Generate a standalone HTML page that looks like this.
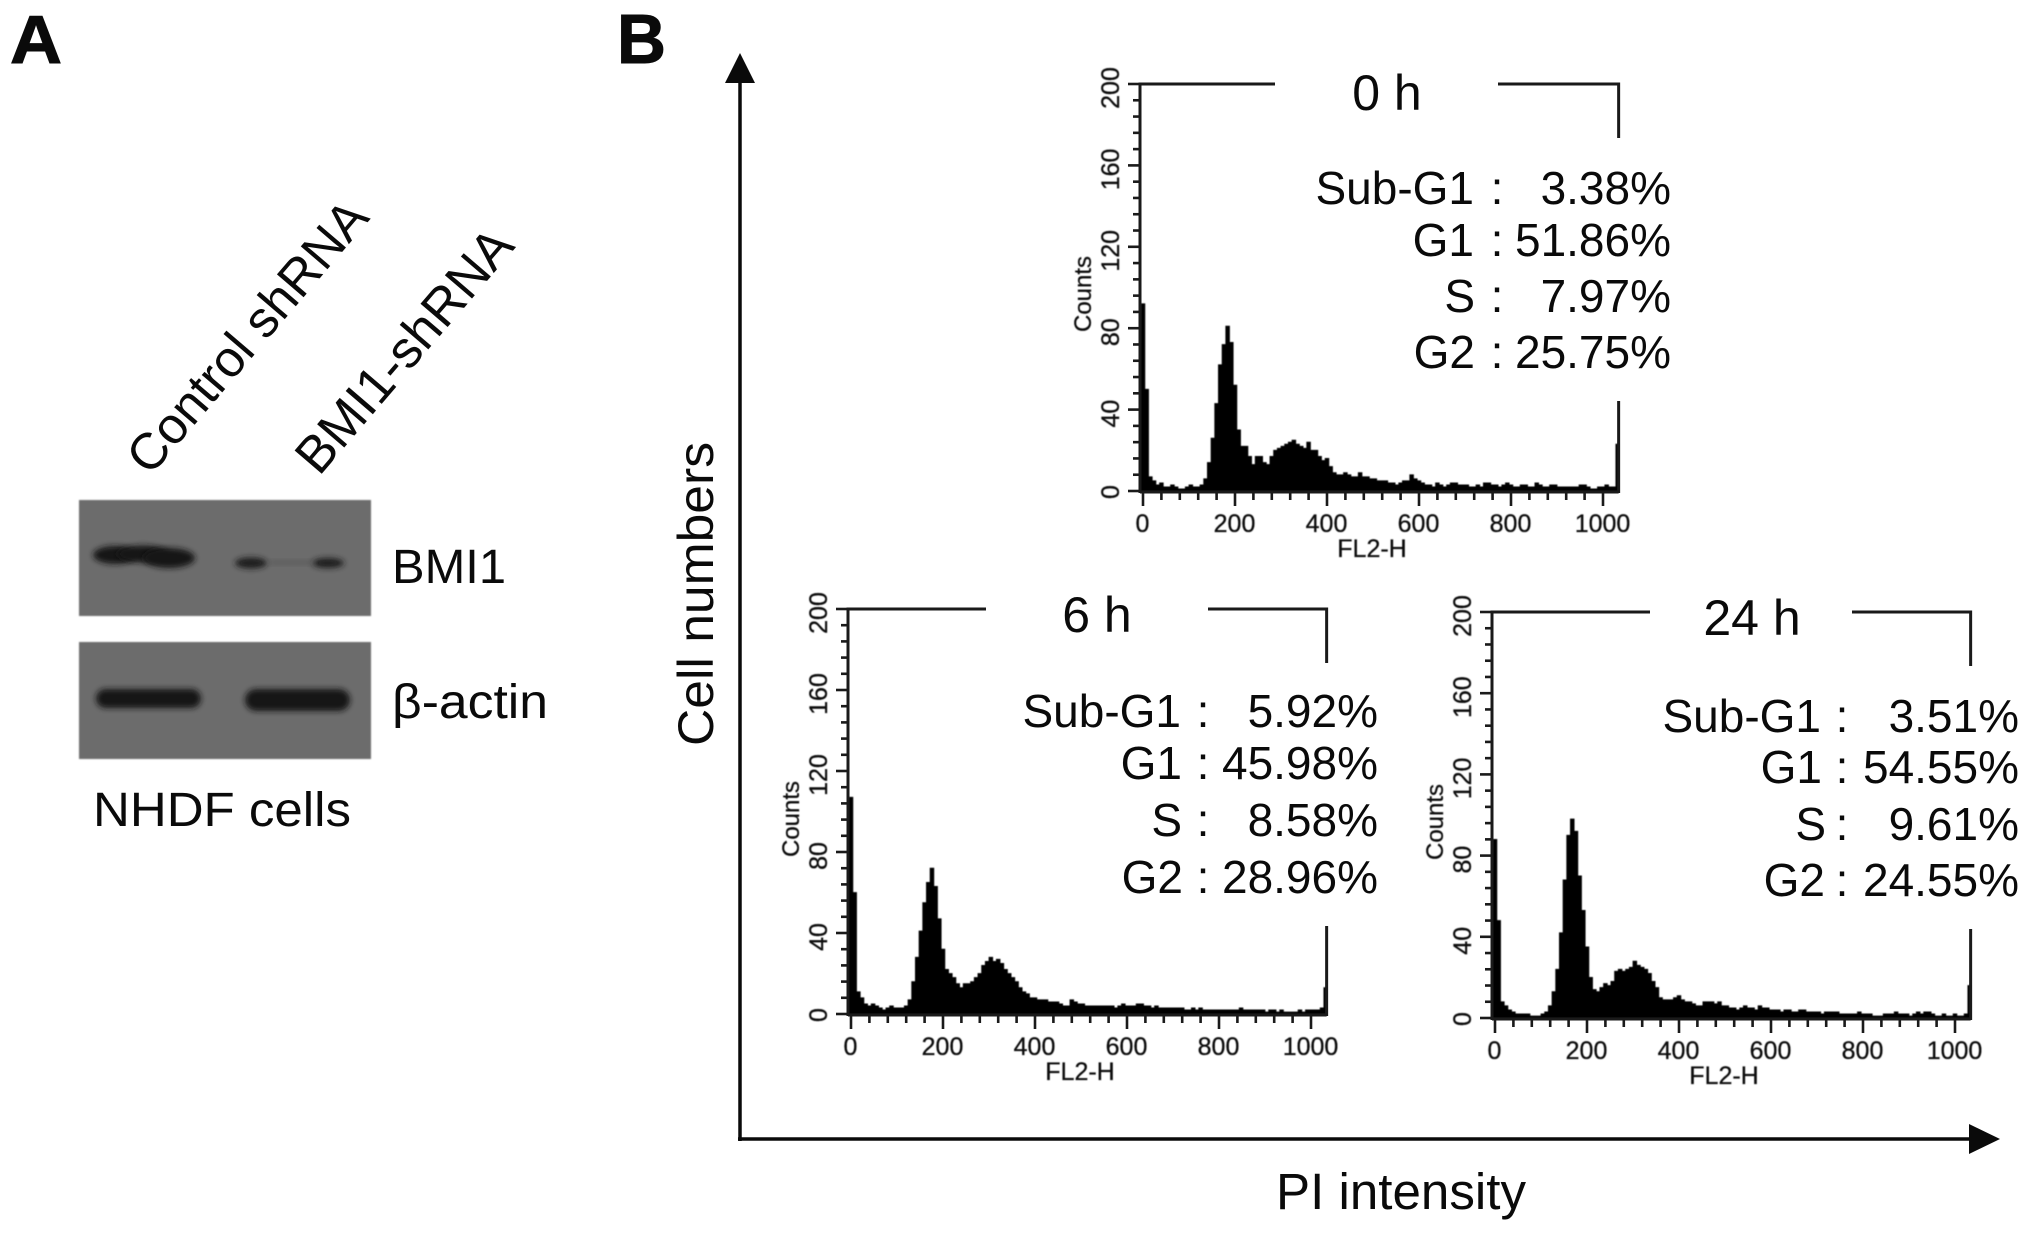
<!DOCTYPE html>
<html lang="en">
<head>
<meta charset="utf-8">
<title>BMI1 knockdown western blot and cell cycle histograms</title>
<style>
html,body{margin:0;padding:0;background:#fff;}
body{width:2031px;height:1233px;overflow:hidden;}
svg{display:block;}
text{font-family:"Liberation Sans",sans-serif;fill:#0a0a0a;}
.soft{filter:url(#soft);}
</style>
</head>
<body>
<svg id="figure" xmlns="http://www.w3.org/2000/svg" width="2031" height="1233" viewBox="0 0 2031 1233">
  <defs>
    <filter id="soft" x="-5%" y="-5%" width="110%" height="110%"><feGaussianBlur stdDeviation="0.6"/></filter>
    <filter id="band" x="-30%" y="-100%" width="160%" height="300%"><feGaussianBlur stdDeviation="3"/></filter>
    <filter id="edge" x="-2%" y="-2%" width="104%" height="104%"><feGaussianBlur stdDeviation="0.7"/></filter>
  </defs>
  <rect width="2031" height="1233" fill="#fff"/>

  <text x="10" y="63" font-size="68" font-weight="bold" textLength="52" lengthAdjust="spacingAndGlyphs" stroke="#0a0a0a" stroke-width="1">A</text>
  <text x="617" y="63" font-size="70" font-weight="bold" textLength="49" lengthAdjust="spacingAndGlyphs" stroke="#0a0a0a" stroke-width="1">B</text>

  <g>
    <text transform="translate(150,477) rotate(-49.5)" font-size="51" textLength="340" lengthAdjust="spacingAndGlyphs">Control shRNA</text>
    <text transform="translate(319,477) rotate(-49.4)" font-size="52" textLength="303" lengthAdjust="spacingAndGlyphs">BMI1-shRNA</text>

    <g>
      <rect x="79" y="500" width="292" height="116" fill="#6c6c6c" filter="url(#edge)"/>
      <ellipse cx="115" cy="555" rx="22" ry="9" fill="#161616" filter="url(#band)"/>
      <ellipse cx="143" cy="554" rx="26" ry="8.5" fill="#161616" filter="url(#band)"/>
      <ellipse cx="169" cy="558" rx="26" ry="10" fill="#141414" filter="url(#band)"/>
      <ellipse cx="251" cy="563" rx="16" ry="5.5" fill="#1a1a1a" filter="url(#band)"/>
      <ellipse cx="328" cy="563" rx="16" ry="5" fill="#1e1e1e" filter="url(#band)"/>
      <rect x="268" y="561" width="46" height="3" fill="#555" filter="url(#band)"/>
    </g>
    <text x="392" y="583" font-size="48" textLength="114" lengthAdjust="spacingAndGlyphs">BMI1</text>

    <g>
      <rect x="79" y="642" width="292" height="117" fill="#6c6c6c" filter="url(#edge)"/>
      <rect x="96" y="689" width="105" height="19" rx="9.5" fill="#141414" filter="url(#band)"/>
      <rect x="245" y="689" width="105" height="22" rx="11" fill="#121212" filter="url(#band)"/>
    </g>
    <text x="392" y="718" font-size="48" textLength="156" lengthAdjust="spacingAndGlyphs">β-actin</text>
    <text x="93" y="826" font-size="48" textLength="258" lengthAdjust="spacingAndGlyphs">NHDF cells</text>
  </g>

  <g>
    <line x1="740" y1="1141" x2="740" y2="80" stroke="#0a0a0a" stroke-width="3.5"/>
    <polygon points="740,53 725,83 755,83" fill="#0a0a0a"/>
    <line x1="738" y1="1139" x2="1972" y2="1139" stroke="#0a0a0a" stroke-width="3.5"/>
    <polygon points="2000,1139 1969,1124 1969,1154" fill="#0a0a0a"/>
    <text transform="translate(713,746) rotate(-90)" font-size="50" textLength="304" lengthAdjust="spacingAndGlyphs">Cell numbers</text>
    <text x="1276" y="1209" font-size="51" textLength="250" lengthAdjust="spacingAndGlyphs">PI intensity</text>
  </g>

  <g id="panels"></g>
</svg>

<script>
// Counts per 8-channel FL2-H bin (channel 0, 8, 16, ... 1032).
const counts0h = [
  92,50,7,5,3,4,2,2,3,2,
  1,1,2,3,2,2,3,6,14,26,
  43,62,72,81,73,52,30,22,22,17,
  13,17,17,14,13,17,20,21,22,23,
  24,25,23,22,21,24,20,20,17,15,
  16,12,9,8,8,9,8,7,7,9,
  7,7,6,6,5,5,5,4,4,3,
  4,5,5,8,6,5,4,3,3,2,
  4,3,2,3,4,4,3,3,3,2,
  2,3,2,4,4,3,3,2,3,4,
  3,2,2,3,3,2,2,4,3,2,
  2,3,3,2,2,2,2,2,2,3,
  3,2,1,1,2,2,3,2,2,23
];
const counts6h = [
  107,60,11,8,5,4,5,4,3,2,
  3,4,3,3,3,4,7,16,28,41,
  55,65,72,63,47,32,22,20,18,15,
  13,15,15,16,18,20,24,26,28,26,
  27,25,22,20,18,16,13,11,10,8,
  8,7,7,7,6,6,6,5,4,4,
  7,6,5,5,4,4,4,4,4,4,
  4,4,3,4,5,4,4,4,5,5,
  4,4,3,4,3,3,3,3,3,3,
  3,2,2,3,2,3,2,2,2,2,
  2,2,2,2,2,2,3,2,2,2,
  2,2,2,1,2,2,1,2,1,1,
  1,1,2,1,2,2,2,2,3,13
];
const counts24h = [
  88,48,8,6,4,3,2,2,2,2,
  1,1,1,2,3,6,13,24,42,68,
  90,98,92,70,53,35,20,14,13,15,
  17,16,18,23,24,23,24,25,28,26,
  25,24,22,18,15,10,9,9,9,10,
  11,9,8,8,7,6,6,8,8,8,
  7,8,6,6,5,5,4,5,6,5,
  5,4,6,5,5,4,4,4,3,4,
  4,3,3,4,4,3,3,3,3,2,
  3,3,3,3,2,2,2,2,2,3,
  2,2,2,1,1,1,2,2,2,3,
  2,2,2,1,2,3,2,3,3,2,
  1,1,2,1,1,2,1,1,2,16
];
const yTickLabels = [0,40,80,120,160,200];
const xTickLabels = [0,200,400,600,800,1000];
const stageLabels = ["Sub-G1","G1","S","G2"];
const percents0h = ["3.38%","51.86%","7.97%","25.75%"];
const percents6h = ["5.92%","45.98%","8.58%","28.96%"];
const percents24h = ["3.51%","54.55%","9.61%","24.55%"];
const panelTitles = ["0 h","6 h","24 h"];

const SVGNS = "http://www.w3.org/2000/svg";
const panelsRoot = document.getElementById("panels");

function mk(parent, tag, attrs, txt) {
  const n = document.createElementNS(SVGNS, tag);
  for (const k in attrs) n.setAttribute(k, attrs[k]);
  if (txt !== undefined) n.textContent = txt;
  parent.appendChild(n);
  return n;
}

function drawPanel(slug, left, top, base, title, counts, percents, opt) {
  const BIN = 8, MAXY = 200, MAXCH = 1034, ZERO_OFFSET = 3, PX_PER_CH = 0.46;
  const xScale = ch => left + ZERO_OFFSET + ch * PX_PER_CH;
  const yScale = v => base - v * (base - top) / MAXY;
  const right = xScale(MAXCH);

  const g = mk(panelsRoot, "g", {});
  
  

  // histogram
  let d = "M" + left + " " + yScale(0);
  counts.forEach((v, i) => {
    const ch = i * BIN;
    const x0 = Math.max(left, xScale(ch - BIN / 2));
    const x1 = Math.min(right, xScale(ch + BIN / 2));
    d += "L" + x0.toFixed(2) + " " + yScale(v).toFixed(2) + "L" + x1.toFixed(2) + " " + yScale(v).toFixed(2);
  });
  d += "L" + right.toFixed(2) + " " + yScale(0) + "Z";
  const hist = mk(g, "path", { d: d, fill: "#000", stroke: "#000", "stroke-width": 0.8, class: "soft" });
  
  

  // frame
  const frame = mk(g, "path", {
    d: "M" + (left + opt.gapL) + " " + top + "H" + left + "V" + (base + 2) +
       "M" + (left + opt.gapR) + " " + top + "H" + right + "V" + (top + 54) +
       "M" + right + " " + (top + 317) + "V" + (base + 2) +
       "M" + left + " " + (base + 1) + "H" + right,
    fill: "none", stroke: "#1a1a1a", "stroke-width": 3
  });
  
  

  const labels = mk(g, "g", { class: "soft" });
  
  

  // y ticks: every 8 counts, labelled every 40
  for (let v = 0; v <= MAXY; v += 8) {
    const major = v % 40 === 0;
    const t = mk(g, "line", { x1: left - (major ? 12 : 7), x2: left, y1: yScale(v), y2: yScale(v), stroke: "#1a1a1a", "stroke-width": 2.6 });
    
    
  }
  yTickLabels.forEach(v => {
    const shift = v === 0 ? 1 : 4;
    const l = mk(labels, "text", { transform: "translate(" + (left - 21) + "," + (yScale(v) + shift) + ") rotate(-90)", "font-size": 25, "text-anchor": "middle", fill: "#222", stroke: "#222", "stroke-width": 0.35 }, String(v));
    
    
  });

  // x ticks: every 40 channels, labelled every 200
  for (let c = 0; c <= 1000; c += 40) {
    const major = c % 200 === 0;
    const t = mk(g, "line", { x1: xScale(c), x2: xScale(c), y1: base + 1, y2: base + (major ? 15 : 9), stroke: "#1a1a1a", "stroke-width": 2.6 });
    
    
  }
  xTickLabels.forEach(c => {
    const l = mk(labels, "text", { x: xScale(c) - 0.5, y: base + 41, "font-size": 25, "text-anchor": "middle", fill: "#222", stroke: "#222", "stroke-width": 0.35 }, String(c));
    
    
  });

  const yt = mk(labels, "text", { transform: "translate(" + (left - 49) + "," + (top + 210) + ") rotate(-90)", "font-size": 24, "text-anchor": "middle", fill: "#222", stroke: "#222", "stroke-width": 0.3 }, "Counts");
  
  
  const xt = mk(labels, "text", { x: left + 232, y: base + 66, "font-size": 25, "text-anchor": "middle", fill: "#222", stroke: "#222", "stroke-width": 0.3 }, "FL2-H");
  
  

  const ttl = mk(g, "text", { x: left + opt.titleX, y: top + opt.titleY, "font-size": 50, "text-anchor": "middle" }, title);
  
  

  // phase percentages
  stageLabels.forEach((s, i) => {
    const y = top + opt.rowY[i];
    const a = mk(g, "text", { x: left + opt.labelEnd[i], y: y, "font-size": 46, "text-anchor": "end" }, s);
    
    
    const c = mk(g, "text", { x: left + opt.colonX, y: y, "font-size": 46, "text-anchor": "middle" }, ":");
    
    
    const p = mk(g, "text", { x: left + opt.valueEnd, y: y, "font-size": 46, "text-anchor": "end" }, percents[i]);
    
    
  });
}

drawPanel("0h", 1140, 84, 491, panelTitles[0], counts0h, percents0h, {
  gapL: 135, gapR: 358, titleX: 247, titleY: 26, colonX: 357, valueEnd: 531,
  rowY: [120, 172, 228, 284], labelEnd: [334, 334, 335, 335]
});
drawPanel("6h", 848, 609, 1014, panelTitles[1], counts6h, percents6h, {
  gapL: 138, gapR: 360, titleX: 249, titleY: 23, colonX: 355, valueEnd: 530,
  rowY: [118, 170, 227, 284], labelEnd: [333, 334, 334, 335]
});
drawPanel("24h", 1492, 612, 1018, panelTitles[2], counts24h, percents24h, {
  gapL: 158, gapR: 360, titleX: 260, titleY: 23, colonX: 350, valueEnd: 527,
  rowY: [120, 171, 228, 284], labelEnd: [329, 330, 334, 333]
});
</script>
</body>
</html>
